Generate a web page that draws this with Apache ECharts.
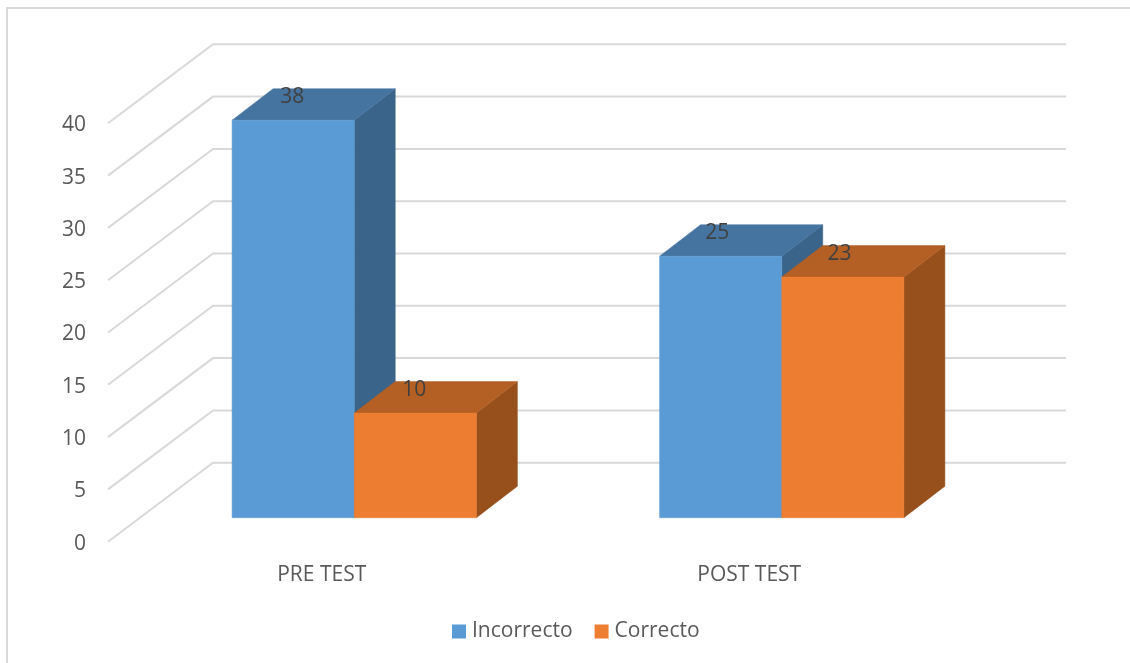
<!DOCTYPE html>
<html>
<head>
<meta charset="utf-8">
<style>html,body{margin:0;padding:0;background:#fff}#chart{width:1130px;height:663px}</style>
<script src="https://cdn.jsdelivr.net/npm/echarts@6/dist/echarts.min.js"></script>
</head>
<body>
<div id="chart"></div>
<script>
// Test results per session
const categories = ['PRE TEST', 'POST TEST'];
const incorrecto = [38, 25];
const correcto = [10, 23];
const yTicks = [0, 5, 10, 15, 20, 25, 30, 35, 40];

const FONT = '"Open Sans", sans-serif';
const GRID_COLOR = '#d9d9d9';

// Box projection: wall offset of the floor and bar plane inside the floor
const WALL_DX = 105, WALL_DY = -79, WALL_INSET = 2;
const PLANE_DX = 32.5, PLANE_DY = -24;
const DEPTH_DX = 41, DEPTH_DY = -31.5;
const GAP_RATIO = 1.5;

// Floor slant plus back-wall run for one axis tick
function renderGridLine(params, api) {
  const p = api.coord([0, api.value(1)]);
  const x0 = params.coordSys.x;
  const w = params.coordSys.width - WALL_INSET;
  return {
    type: 'polyline',
    shape: { points: [[x0, p[1]], [x0 + WALL_DX, p[1] + WALL_DY], [x0 + WALL_DX + w, p[1] + WALL_DY]] },
    style: { stroke: GRID_COLOR, lineWidth: 2, fill: null },
    silent: true
  };
}

// One cuboid bar; slot 0 sits left of the band centre, slot 1 right of it
function cuboid(slot, front, top, side) {
  return function (params, api) {
    const cat = api.value(0), val = api.value(1);
    const band = api.size([1, 0])[0];
    const barW = band / (2 + GAP_RATIO);
    const head = api.coord([cat, val]);
    const foot = api.coord([cat, 0]);
    const x1 = head[0] + PLANE_DX + (slot - 1) * barW;
    const x2 = x1 + barW;
    const yTop = head[1] + PLANE_DY;
    const yBase = foot[1] + PLANE_DY;
    const poly = (pts, color) => ({
      type: 'polygon', shape: { points: pts },
      style: { fill: color, stroke: color, lineWidth: 0.5 }
    });
    return {
      type: 'group',
      children: [
        poly([[x2, yTop], [x2 + DEPTH_DX, yTop + DEPTH_DY], [x2 + DEPTH_DX, yBase + DEPTH_DY], [x2, yBase]], side),
        poly([[x1, yTop], [x1 + DEPTH_DX, yTop + DEPTH_DY], [x2 + DEPTH_DX, yTop + DEPTH_DY], [x2, yTop]], top),
        poly([[x1, yTop], [x2, yTop], [x2, yBase], [x1, yBase]], front),
        {
          type: 'text',
          z2: 10,
          style: {
            text: String(val),
            x: (x1 + x2) / 2 - (cat === 0 ? 1 : 3.4),
            y: yTop - 23.5,
            align: 'center',
            verticalAlign: 'middle',
            fill: '#404040',
            font: '21px ' + FONT
          }
        }
      ]
    };
  };
}

const chart = echarts.init(document.getElementById('chart'), null, { renderer: 'canvas' });
chart.setOption({
  animation: false,
  backgroundColor: '#fff',
  graphic: [{
    type: 'rect', silent: true, z: -1,
    shape: { x: 7, y: 8, width: 1300, height: 900 },
    style: { fill: 'none', stroke: GRID_COLOR, lineWidth: 2 }
  }],
  grid: { left: 108, top: 123.3, width: 855, height: 418.4 },
  xAxis: {
    type: 'category',
    data: categories,
    axisLine: { show: false },
    axisTick: { show: false },
    splitLine: { show: false },
    axisLabel: { color: '#595959', fontFamily: FONT, fontSize: 21, margin: 23 }
  },
  yAxis: {
    type: 'value',
    min: 0, max: 40, interval: 5,
    axisLine: { show: false },
    axisTick: { show: false },
    splitLine: { show: false },
    axisLabel: { color: '#595959', fontFamily: FONT, fontSize: 21, margin: 22, verticalAlign: 'top', lineHeight: 4 }
  },
  legend: {
    data: ['Incorrecto', 'Correcto'],
    left: 447, top: 616,
    icon: 'rect',
    itemWidth: 14, itemHeight: 14, itemGap: 22,
    textStyle: { color: '#595959', fontFamily: FONT, fontSize: 21, padding: [0, 0, 0, 1] }
  },
  series: [
    {
      type: 'custom', name: 'ticks', z: 1, silent: true,
      data: yTicks.map(v => [0, v]),
      encode: { x: 0, y: 1 },
      renderItem: renderGridLine
    },
    {
      type: 'custom', name: 'Incorrecto', z: 2,
      itemStyle: { color: '#5B9BD5' },
      data: incorrecto.map((v, i) => [i, v]),
      encode: { x: 0, y: 1 },
      renderItem: cuboid(0, '#5B9BD5', '#4674A0', '#3A6489')
    },
    {
      type: 'custom', name: 'Correcto', z: 3,
      itemStyle: { color: '#ED7D31' },
      data: correcto.map((v, i) => [i, v]),
      encode: { x: 0, y: 1 },
      renderItem: cuboid(1, '#ED7D31', '#B45F23', '#97501C')
    }
  ]
});
</script>
</body>
</html>
